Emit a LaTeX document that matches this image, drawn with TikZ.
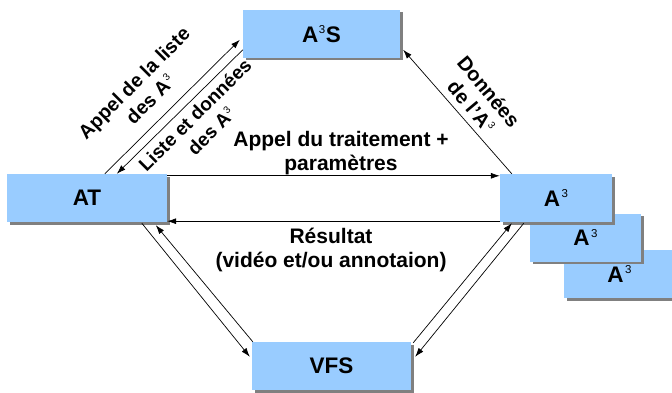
\documentclass[tikz,border=0pt]{standalone}
\usepackage{fontspec}
\setmainfont{Liberation Sans}
\usetikzlibrary{arrows.meta,calc,shadows}
\definecolor{boxblue}{RGB}{153,204,255}
\definecolor{shadowgray}{RGB}{128,128,128}
\newcommand{\cubeb}{\kern1.5pt\raisebox{8.8pt}{\fontsize{11.5}{11.5}\selectfont\mdseries 3}}
\newcommand{\cubes}{\kern0.5pt\raisebox{8.8pt}{\fontsize{11.5}{11.5}\selectfont\mdseries 3}\kern0.5pt}
\newcommand{\cubel}{\kern1pt\raisebox{7.5pt}{\fontsize{10}{10}\selectfont\mdseries 3}}
\begin{document}
\begin{tikzpicture}[x=1pt,y=-1pt,
  box/.style={fill=boxblue, draw=none, minimum width=#1, minimum height=48pt, inner sep=0pt,
    font=\fontsize{22.5}{25}\selectfont\bfseries,
    drop shadow={shadow xshift=2.5pt,shadow yshift=-2.5pt,fill=shadowgray,opacity=1}},
  lab/.style={font=\fontsize{21}{24}\selectfont\bfseries, align=center, inner sep=0pt},
  rlab/.style={font=\fontsize{19.5}{23}\selectfont\bfseries, align=center, inner sep=0pt},
  arr/.style={-{Latex[length=9pt,width=6pt]}, line width=0.7pt}]
\useasboundingbox (0,0) rectangle (672,393);
\clip (0,0) rectangle (672,393);
% boxes
\node[box=160pt] (AT) at (87,198) {AT};
\node[box=157pt] (A3S) at (321.5,34) {A\cubes S};
\node[box=111pt] (A3c) at (619.5,274) {A\cubeb};
\node[box=111pt] (A3b) at (585.5,237.5) {A\cubeb};
\node[box=112pt] (A3a) at (556,198) {A\cubeb};
\node[box=159pt] (VFS) at (331.5,366) {VFS};
% connectors
\draw[arr] ($(AT.north east)+(0,2)$) -- ($(A3a.north west)+(0,2)$);
\draw[arr] ($(A3a.south west)+(0,-1)$) -- ($(AT.south east)+(0,-1)$);
\draw[arr] ($(AT.north west)+(98,0)$) -- ($(A3S.north west)+(-3,30)$);
\draw[arr] ($(A3S.north west)+(0,40)$) -- ($(AT.north west)+(110,0)$);
\draw[arr] ($(A3a.north west)+(12,0)$) -- ($(A3S.north east)+(3,40)$);
\draw[arr] ($(AT.south west)+(135,1)$) -- ($(VFS.north west)+(-2,15)$);
\draw[arr] ($(VFS.north west)+(1,0)$) -- ($(AT.south west)+(149,3)$);
\draw[arr] ($(VFS.north east)+(2,1)$) -- ($(A3a.south west)+(12,1)$);
\draw[arr] ($(A3a.south west)+(24,1)$) -- ($(VFS.north east)+(4,15)$);
% labels
\node[lab] (l1) at (341,153) {Appel du traitement +\\paramètres};
\node[lab] (l2) at (331,250) {Résultat\\(vidéo et/ou annotaion)};
\node[rlab, rotate=45] (l3) at (142,91) {Appel de la liste\\des A\cubel};
\node[rlab, font=\fontsize{19}{23}\selectfont\bfseries, rotate=45] (l4) at (203,123) {Liste et données\\des A\cubel};
\node[rlab, font=\fontsize{20}{23}\selectfont\bfseries, rotate=-50] (l5) at (480,99) {Données\\de l'A\cubel};
\end{tikzpicture}
\end{document}
